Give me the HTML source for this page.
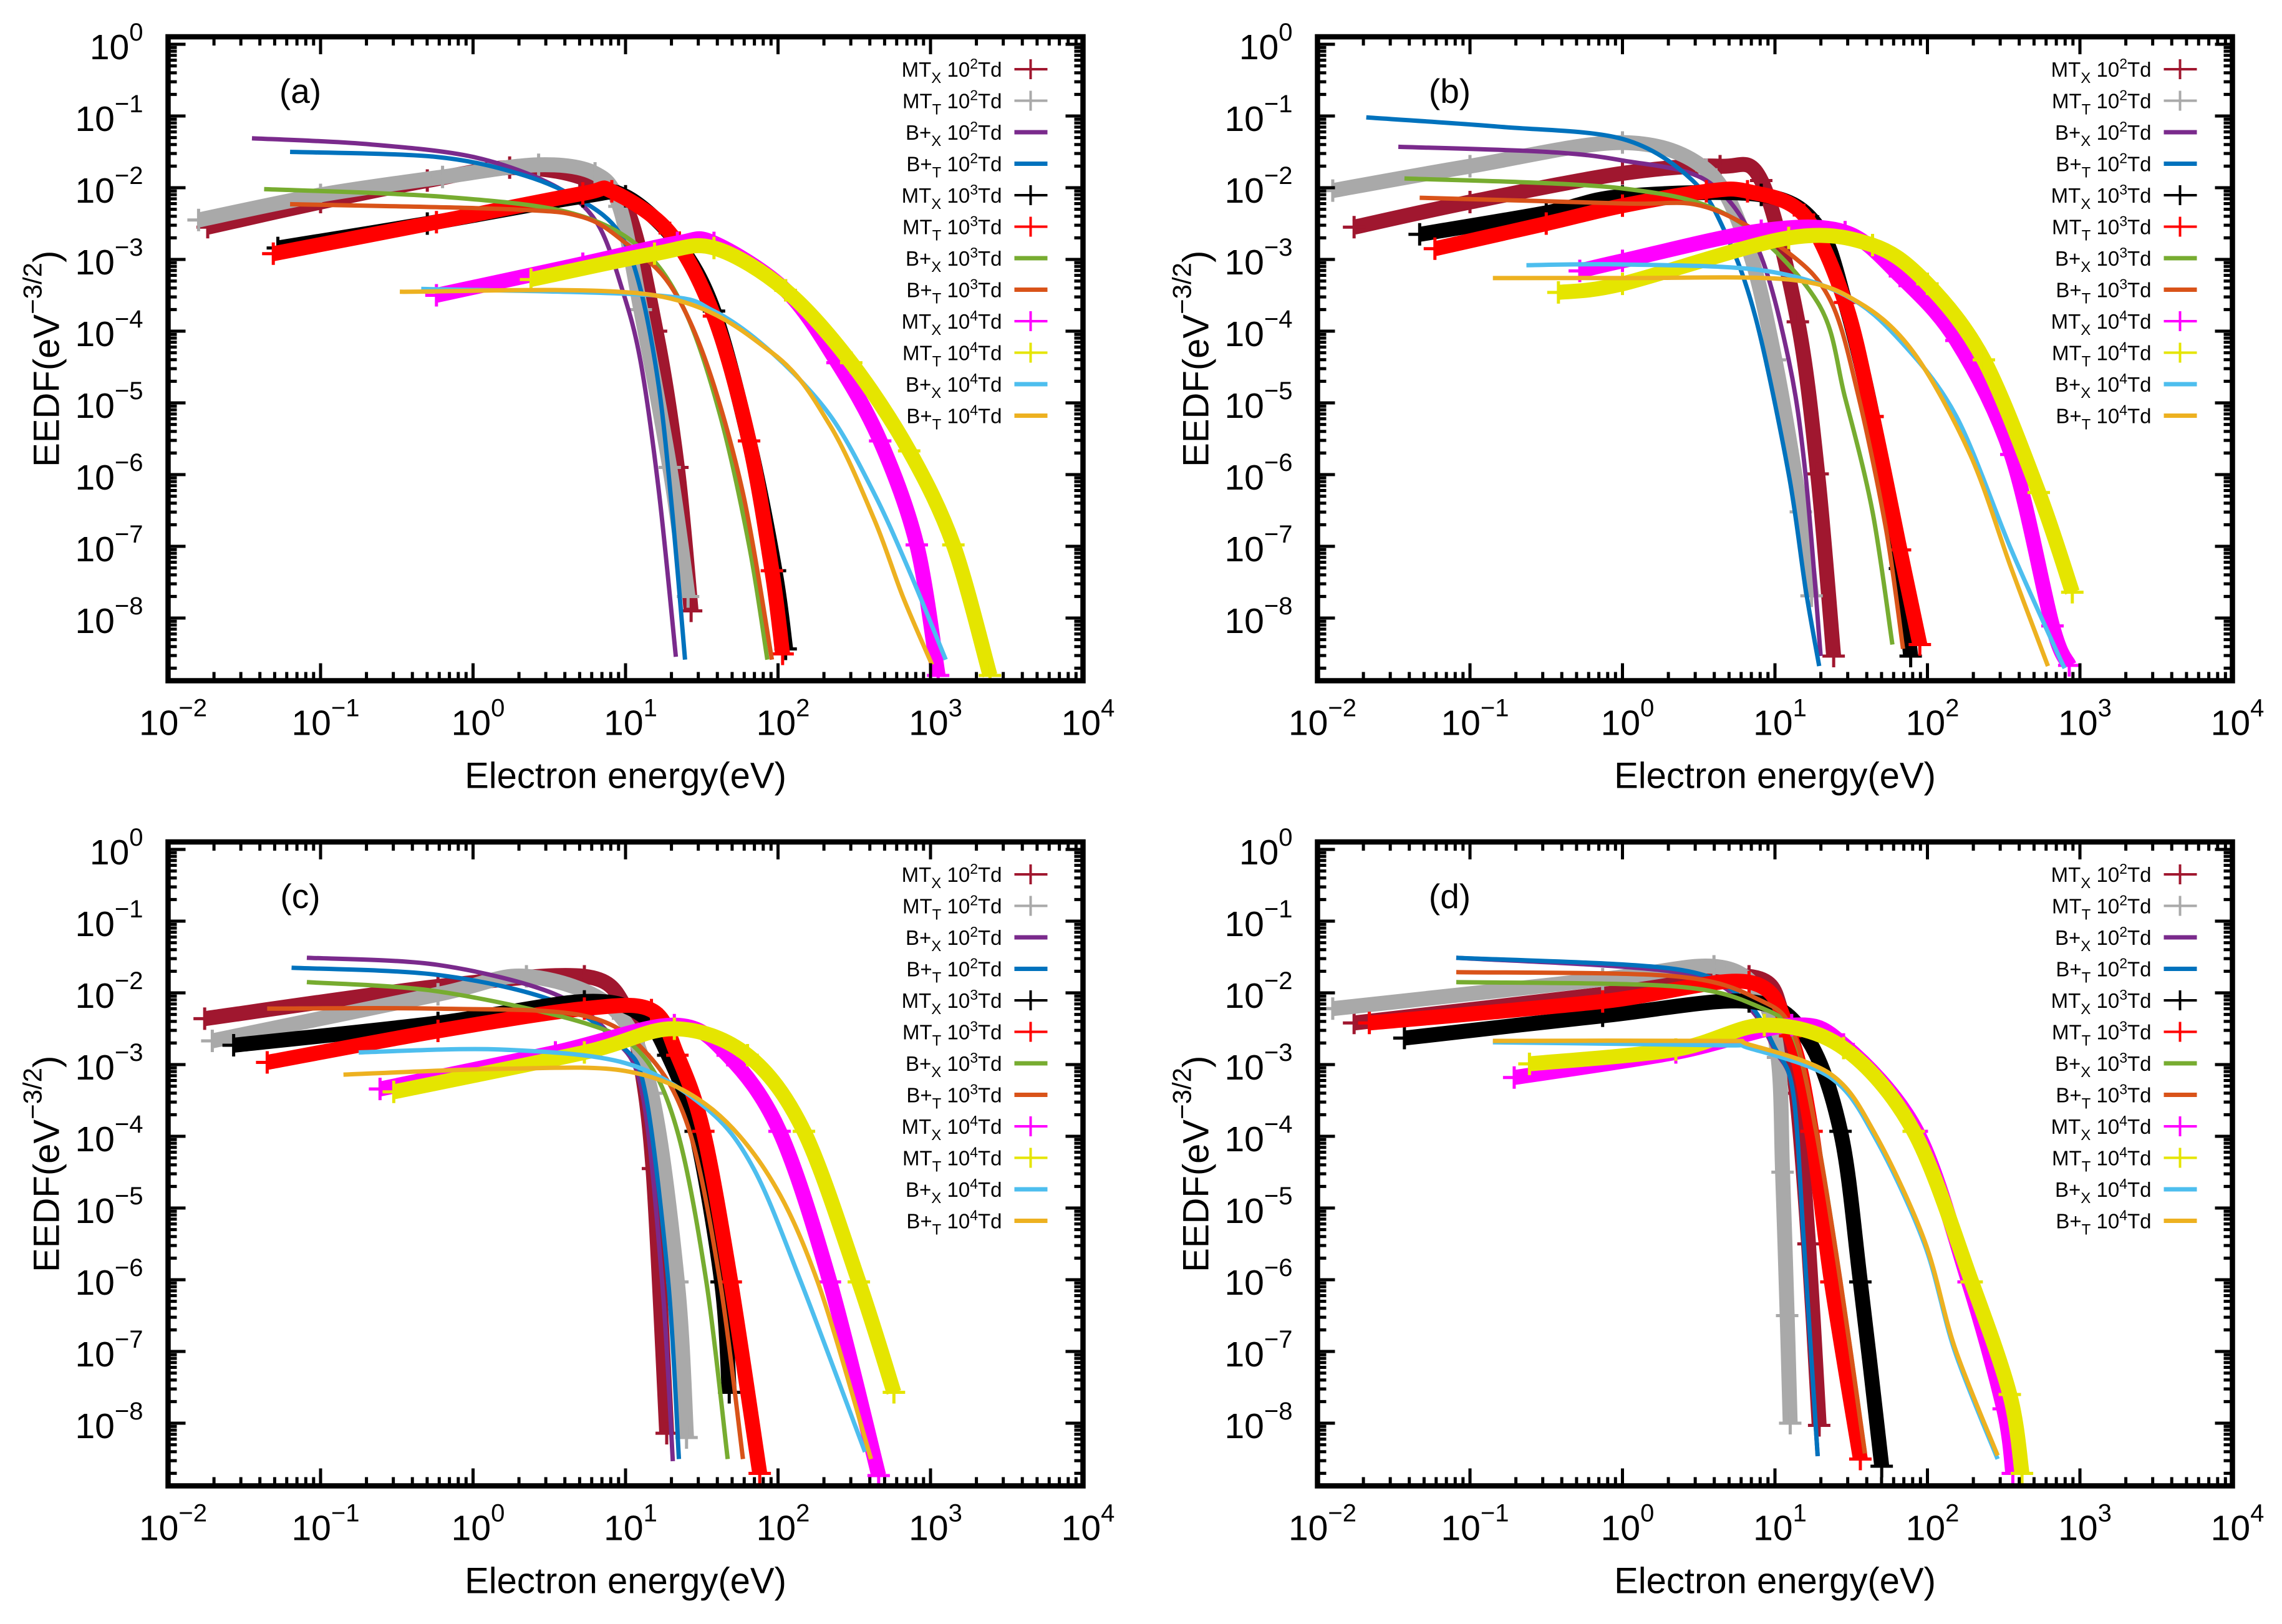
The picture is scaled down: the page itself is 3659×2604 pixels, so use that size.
<!DOCTYPE html>
<html><head><meta charset="utf-8"><title>EEDF panels</title>
<style>
html,body{margin:0;padding:0;background:#fff;}
svg{display:block;font-family:"Liberation Sans",sans-serif;}
</style></head>
<body>
<svg id="fig" width="3659" height="2604" viewBox="0 0 3659 2604" xmlns="http://www.w3.org/2000/svg">
<rect width="3659" height="2604" fill="#fff"/>
</svg>
<script>
// ---- data: log10(E/eV) and log10(EEDF) knots per series, per panel ----
const seriesNames = ["MTx 1e2","MTt 1e2","B+x 1e2","B+t 1e2","MTx 1e3","MTt 1e3","B+x 1e3","B+t 1e3","MTx 1e4","MTt 1e4","B+x 1e4","B+t 1e4"];
const panelLabels = ["(a)","(b)","(c)","(d)"];
const xTickExps = [-2,-1,0,1,2,3,4];
const yTickExps = [0,-1,-2,-3,-4,-5,-6,-7,-8];

const aX = [
 [-1.74,-1.0,-0.3,0.24,0.7,1.0,1.2,1.34,1.43],
 [-1.8,-1.0,-0.2,0.43,0.8,0.96,1.1,1.29,1.41],
 [-1.45,-0.71,0.0,0.53,0.81,0.98,1.1,1.22,1.33],
 [-1.2,-0.24,0.34,0.72,0.96,1.1,1.22,1.31,1.39],
 [-1.28,-0.3,0.72,1.0,1.34,1.58,1.81,1.98,2.05],
 [-1.31,-0.24,0.72,0.91,1.29,1.58,1.81,1.96,2.03],
 [-1.37,-0.24,0.62,1.1,1.39,1.62,1.81,1.93],
 [-1.2,0.24,0.72,1.0,1.29,1.53,1.77,1.96],
 [-0.24,0.72,1.34,1.58,2.05,2.39,2.67,2.91,3.05],
 [0.38,1.19,1.58,2.05,2.48,2.86,3.15,3.39],
 [-0.34,1.19,1.58,1.96,2.34,2.63,2.86,3.1],
 [-0.48,1.19,1.96,2.34,2.63,2.82,3.01]
];
const aY = [
 [-2.55,-2.2,-1.9,-1.72,-1.85,-2.26,-4.0,-5.9,-7.9],
 [-2.45,-2.1,-1.85,-1.68,-1.8,-2.26,-3.7,-5.9,-7.7],
 [-1.31,-1.39,-1.57,-1.97,-2.48,-3.43,-4.44,-6.26,-8.54],
 [-1.50,-1.57,-1.83,-2.19,-2.63,-3.43,-4.8,-6.6,-8.58],
 [-2.84,-2.5,-2.12,-2.12,-2.77,-3.72,-5.53,-7.34,-8.43],
 [-2.92,-2.48,-2.08,-2.05,-2.63,-3.79,-5.53,-7.34,-8.5],
 [-2.02,-2.12,-2.34,-2.84,-3.72,-5.17,-6.98,-8.58],
 [-2.23,-2.3,-2.41,-2.77,-3.35,-4.44,-6.26,-8.58],
 [-3.5,-3.06,-2.77,-2.77,-3.43,-4.44,-5.53,-6.98,-8.8],
 [-3.28,-2.92,-2.84,-3.43,-4.44,-5.67,-6.98,-8.8],
 [-3.41,-3.5,-3.72,-4.3,-5.17,-6.26,-7.34,-8.58],
 [-3.45,-3.5,-4.3,-5.31,-6.62,-7.71,-8.65]
];
const bX = [
 [-1.76,-1.0,0,0.64,0.91,1.15,1.28,1.385],
 [-1.9,-1.0,0,0.55,0.82,1.0,1.17,1.24],
 [-1.47,-0.5,0,0.55,0.88,1.09,1.2,1.3],
 [-1.68,-0.8,0,0.46,0.69,0.88,1.09,1.2,1.29],
 [-1.33,-0.5,0,0.91,1.28,1.46,1.64,1.82,1.89],
 [-1.23,-0.5,0,0.55,0.82,1.19,1.46,1.64,1.82,1.95],
 [-1.43,0,0.73,1.28,1.46,1.64,1.77],
 [-1.33,0,0.55,1.09,1.37,1.55,1.73,1.84],
 [-0.28,0,0.91,1.46,1.82,2.19,2.55,2.82,2.93],
 [-0.42,0,1.09,1.64,2.0,2.37,2.73,2.95],
 [-0.63,0,0.91,1.46,1.82,2.19,2.55,2.84,2.9],
 [-0.85,0,1.09,1.55,1.91,2.28,2.55,2.79]
];
const bY = [
 [-2.55,-2.2,-1.8,-1.7,-1.9,-3.87,-5.99,-8.53],
 [-2.04,-1.7,-1.37,-1.75,-2.81,-4.4,-6.52,-7.69],
 [-1.43,-1.5,-1.62,-1.9,-2.81,-4.4,-5.99,-8.53],
 [-1.02,-1.15,-1.32,-1.9,-2.7,-3.87,-5.99,-7.58,-8.67],
 [-2.65,-2.35,-2.12,-2.1,-2.54,-3.6,-5.19,-7.31,-8.53],
 [-2.85,-2.5,-2.25,-2.05,-2.05,-2.38,-3.6,-5.19,-7.05,-8.37],
 [-1.87,-2.01,-2.43,-3.6,-4.93,-6.52,-8.37],
 [-2.14,-2.22,-2.27,-2.91,-3.6,-4.93,-6.78,-8.43],
 [-3.16,-3.02,-2.6,-2.62,-3.23,-4.13,-5.72,-8.11,-8.66],
 [-3.46,-3.34,-2.7,-2.8,-3.34,-4.4,-6.25,-7.64],
 [-3.08,-3.07,-3.15,-3.5,-4.13,-5.19,-7.05,-8.43,-8.7],
 [-3.26,-3.26,-3.28,-3.6,-4.3,-5.72,-7.31,-8.67]
];
const cX = [
 [-1.76,-0.23,0.73,1.0,1.09,1.18,1.27],
 [-1.71,-0.23,0.35,0.92,1.17,1.34,1.4],
 [-1.09,-0.23,0.54,0.92,1.11,1.24,1.31],
 [-1.19,-0.23,0.54,0.97,1.13,1.28,1.35],
 [-1.57,-0.23,0.73,1.1,1.28,1.46,1.63,1.68],
 [-1.35,-0.23,0.73,1.17,1.34,1.51,1.69,1.88],
 [-1.09,-0.23,0.73,1.11,1.34,1.53,1.67],
 [-1.35,-0.23,0.73,1.15,1.42,1.62,1.77],
 [-0.61,0.54,1.32,1.67,2.01,2.34,2.66],
 [-0.52,0.73,1.32,1.8,2.17,2.53,2.76],
 [-0.75,0.17,1.0,1.53,1.84,2.15,2.57],
 [-0.85,0.17,1.0,1.53,1.94,2.26,2.61]
];
const cY = [
 [-2.36,-1.91,-1.77,-2.2,-2.87,-4.45,-8.14],
 [-2.67,-2.02,-1.77,-2.22,-3.4,-6.03,-8.2],
 [-1.51,-1.61,-2.02,-2.63,-3.4,-6.03,-8.53],
 [-1.65,-1.75,-2.12,-2.73,-3.4,-6.03,-8.5],
 [-2.73,-2.42,-2.12,-2.3,-2.87,-3.93,-6.03,-7.57],
 [-2.97,-2.53,-2.22,-2.24,-2.87,-3.93,-6.03,-8.7],
 [-1.85,-1.98,-2.42,-2.87,-3.93,-6.03,-8.5],
 [-2.22,-2.22,-2.32,-2.87,-3.93,-6.03,-8.5],
 [-3.34,-2.83,-2.45,-2.87,-3.93,-6.03,-8.73],
 [-3.38,-2.83,-2.5,-2.87,-3.93,-6.03,-7.57],
 [-2.83,-2.79,-2.98,-3.61,-4.45,-6.03,-8.4],
 [-3.14,-3.06,-3.09,-3.56,-4.55,-6.03,-8.5]
];
const dX = [
 [-1.76,-0.13,0.83,1.05,1.14,1.22,1.29],
 [-1.9,-0.13,0.6,0.9,1.02,1.05,1.08,1.1],
 [-1.09,0.35,0.8,1.0,1.12,1.19,1.28],
 [-1.09,0.35,0.8,1.0,1.12,1.19,1.28],
 [-1.43,-0.13,0.83,1.2,1.43,1.56,1.7],
 [-1.66,-0.13,0.83,1.1,1.24,1.37,1.56],
 [-1.09,0.35,0.9,1.12,1.27,1.43,1.59],
 [-1.09,0.35,0.9,1.12,1.27,1.43,1.59],
 [-0.71,0.35,1.11,1.45,1.93,2.27,2.5,2.56],
 [-0.61,0.35,0.93,1.45,1.91,2.29,2.54,2.62],
 [-0.85,0.63,0.83,1.37,1.66,1.98,2.18,2.46],
 [-0.85,0.63,0.83,1.37,1.66,1.98,2.18,2.46]
];
const dY = [
 [-2.42,-2.02,-1.77,-2.3,-3.4,-5.5,-8.03],
 [-2.22,-1.81,-1.63,-2.0,-2.9,-4.5,-6.5,-8.0],
 [-1.51,-1.71,-2.15,-2.8,-3.4,-5.5,-8.46],
 [-1.51,-1.67,-2.1,-2.77,-3.4,-5.5,-8.46],
 [-2.63,-2.32,-2.12,-2.6,-3.93,-6.03,-8.6],
 [-2.42,-2.12,-1.85,-2.6,-3.93,-6.03,-8.5],
 [-1.85,-1.91,-2.2,-2.6,-3.93,-6.03,-8.42],
 [-1.71,-1.77,-2.1,-2.55,-3.93,-6.03,-8.42],
 [-3.18,-2.83,-2.45,-2.72,-3.93,-6.03,-7.8,-8.7],
 [-2.99,-2.79,-2.45,-2.77,-3.93,-6.03,-7.6,-8.7],
 [-2.69,-2.73,-2.77,-3.19,-4.03,-5.5,-7.0,-8.5],
 [-2.67,-2.67,-2.72,-3.14,-3.98,-5.45,-6.95,-8.45]
];
const panelXs = [aX,bX,cX,dX];
const panelYs = [aY,bY,cY,dY];

const colors = ["#a0172f","#a9a9a9","#7a2a8c","#0072bd","#000000","#ff0000","#77ac30","#d95319","#ff00ff","#e5e500","#4dbeee","#edb120"];
const isMT = [true,true,false,false,true,true,false,false,true,true,false,false];
const legPre = ["MT","MT","B+","B+","MT","MT","B+","B+","MT","MT","B+","B+"];
const legSub = ["X","T","X","T","X","T","X","T","X","T","X","T"];
const legExp = ["2","2","2","2","3","3","3","3","4","4","4","4"];

const NS = "http://www.w3.org/2000/svg";
const svg = document.getElementById("fig");
function el(tag, attrs, parent){
  const e = document.createElementNS(NS, tag);
  for (const k in attrs) e.setAttribute(k, attrs[k]);
  (parent||svg).appendChild(e);
  return e;
}
function smoothPath(P){
  let d = "M" + P[0][0].toFixed(1) + "," + P[0][1].toFixed(1);
  for (let i = 0; i < P.length - 1; i++){
    const p0 = P[Math.max(0,i-1)], p1 = P[i], p2 = P[i+1], p3 = P[Math.min(P.length-1,i+2)];
    const t = 0.16;
    const c1 = [p1[0] + (p2[0]-p0[0])*t, p1[1] + (p2[1]-p0[1])*t];
    const c2 = [p2[0] - (p3[0]-p1[0])*t, p2[1] - (p3[1]-p1[1])*t];
    d += "C" + c1[0].toFixed(1) + "," + c1[1].toFixed(1) + " " + c2[0].toFixed(1) + "," + c2[1].toFixed(1) + " " + p2[0].toFixed(1) + "," + p2[1].toFixed(1);
  }
  return d;
}
const PW = 1467, PH = 1032.5, DEC_X = 244.5, DEC_Y = 115, Y0OFF = 12;
const origins = [[269.5,59],[2112.5,59],[269.5,1350],[2112.5,1350]];
const defs = el("defs",{});

origins.forEach(([L,T], p) => {
  const xs = v => L + (v + 2) * DEC_X;
  const ys = v => T + Y0OFF - v * DEC_Y;
  const g = el("g",{});
  
  
  const cp = el("clipPath",{id:"clip"+p}, defs);
  el("rect",{x:L,y:T,width:PW,height:PH}, cp);

  const sg = el("g",{"clip-path":"url(#clip"+p+")"}, g);
  
  
  const X = panelXs[p], Y = panelYs[p];
  for (let s = 0; s < 12; s++){
    const P = X[s].map((v,i) => [xs(v), ys(Y[s][i])]);
    const line = el("path",{d:smoothPath(P), fill:"none", stroke:colors[s], "stroke-width": isMT[s] ? 24 : 7, "stroke-linejoin":"round","stroke-linecap":"butt"}, sg);
    
    
    if (isMT[s]){
      P.forEach(([cx,cy]) => {
        const m = el("path",{d:`M${cx-18},${cy}H${cx+18}M${cx},${cy-18}V${cy+18}`, stroke:colors[s], "stroke-width":5}, sg);
        
        
      });
    }
  }

  const tk = el("g",{stroke:"#000","stroke-width":5}, g);
  
  
  for (let e = -2; e <= 4; e++){
    const x = xs(e);
    el("line",{x1:x,y1:T+PH,x2:x,y2:T+PH-28}, tk);
    el("line",{x1:x,y1:T,x2:x,y2:T+28}, tk);
    if (e < 4) for (let k = 2; k <= 9; k++){
      const xm = xs(e + Math.log10(k));
      el("line",{x1:xm,y1:T+PH,x2:xm,y2:T+PH-14}, tk);
      el("line",{x1:xm,y1:T,x2:xm,y2:T+14}, tk);
    }
  }
  for (let e = 0; e >= -9; e--){
    if (e >= -8){
      const y = ys(e);
      el("line",{x1:L,y1:y,x2:L+28,y2:y}, tk);
      el("line",{x1:L+PW,y1:y,x2:L+PW-28,y2:y}, tk);
    }
    for (let k = 2; k <= 9; k++){
      const ym = ys(e - 1 + Math.log10(k));
      if (ym > T + PH - 2 || ym < T + 2) continue;
      el("line",{x1:L,y1:ym,x2:L+14,y2:ym}, tk);
      el("line",{x1:L+PW,y1:ym,x2:L+PW-14,y2:ym}, tk);
    }
  }
  const fr = el("rect",{x:L,y:T,width:PW,height:PH,fill:"none",stroke:"#000","stroke-width":8.5}, g);
  
  

  xTickExps.forEach(e => {
    const t = el("text",{x:xs(e)+8,y:T+PH+87,"font-size":57,"text-anchor":"middle",fill:"#000"}, g);
    
    
    t.textContent = "10";
    const sp = el("tspan",{dy:-30,"font-size":40}, t);
    sp.textContent = e < 0 ? "\u2212" + (-e) : String(e);
  });
  yTickExps.forEach(e => {
    const t = el("text",{x:L-40,y:ys(e)+24,"font-size":57,"text-anchor":"end",fill:"#000"}, g);
    
    
    const a = el("tspan",{}, t); a.textContent = "10";
    const sp = el("tspan",{dy:-30,"font-size":40}, t);
    sp.textContent = e < 0 ? "\u2212" + (-e) : String(e);
  });

  const xt = el("text",{x:L+PW/2,y:T+PH+172,"font-size":58,"text-anchor":"middle",fill:"#000"}, g);
  
  
  xt.textContent = "Electron energy(eV)";
  const yt = el("text",{x:0,y:0,"font-size":58,"text-anchor":"middle",fill:"#000",transform:`translate(${L-175},${T+PH/2}) rotate(-90)`}, g);
  
  
  const y1 = el("tspan",{}, yt); y1.textContent = "EEDF(eV";
  const y2 = el("tspan",{dy:-28,"font-size":42}, yt); y2.textContent = "\u22123/2";
  const y3 = el("tspan",{dy:28}, yt); y3.textContent = ")";

  const pl = el("text",{x:L+212,y:T+106,"font-size":55,"text-anchor":"middle",fill:"#000"}, g);
  
  
  pl.textContent = panelLabels[p];

  const lg = el("g",{}, g);
  
  
  for (let s = 0; s < 12; s++){
    const yy = T + 52 + 50.5 * s;
    const t = el("text",{x:L+1337,y:yy+12,"font-size":33,"text-anchor":"end",fill:"#000"}, lg);
    
    
    const a = el("tspan",{}, t); a.textContent = legPre[s];
    const b = el("tspan",{dy:10,"font-size":24}, t); b.textContent = legSub[s];
    const c = el("tspan",{dy:-10}, t); c.textContent = " 10";
    const d = el("tspan",{dy:-13,"font-size":23}, t); d.textContent = legExp[s];
    const f = el("tspan",{dy:13}, t); f.textContent = "Td";
    const sm = el("line",{x1:L+1357,y1:yy,x2:L+1410,y2:yy,stroke:colors[s],"stroke-width":isMT[s]?4:7}, lg);
    
    
    if (isMT[s]){
      const v = el("line",{x1:L+1383,y1:yy-16,x2:L+1383,y2:yy+16,stroke:colors[s],"stroke-width":4}, lg);
      
      
    }
  }
});
</script>
</body></html>
